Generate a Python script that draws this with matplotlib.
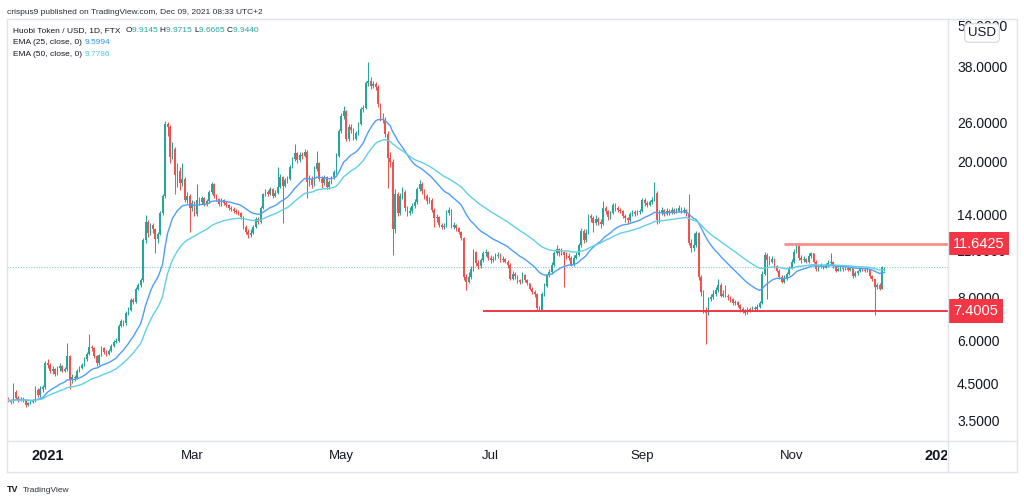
import matplotlib
matplotlib.use("Agg")
import matplotlib.pyplot as plt
import matplotlib.dates as mdates
import matplotlib.transforms as mtransforms
from matplotlib.lines import Line2D
import numpy as np
import pandas as pd

# ---------------- data ----------------
start_date = "2020-12-16"
first_open = 4.10
close = [
    4.05, 4.00, 4.30, 4.12, 4.08, 4.10, 4.05, 3.93, 3.98, 4.00,
    4.03, 4.35, 4.20, 4.38, 4.42, 5.20, 5.15, 4.95, 5.00, 4.85,
    5.05, 5.10, 4.95, 5.00, 5.45, 4.65, 4.75, 4.72, 4.95, 5.05,
    5.15, 5.35, 5.55, 5.80, 5.75, 5.45, 5.20, 5.50, 5.75, 5.60,
    5.55, 5.65, 5.85, 6.00, 6.05, 6.70, 6.90, 6.80, 7.30, 7.45,
    7.95, 7.85, 8.60, 8.80, 9.10, 11.90, 13.50, 12.50, 13.20, 12.80,
    12.00, 12.40, 14.30, 16.00, 26.00, 25.50, 20.80, 22.00, 18.50, 19.00,
    17.50, 18.00, 15.65, 16.00, 14.80, 15.30, 14.20, 15.60, 15.40, 15.80,
    15.20, 15.50, 16.50, 17.40, 16.00, 15.70, 15.20, 15.60, 15.30, 15.10,
    14.80, 14.70, 14.50, 14.40, 14.30, 13.90, 13.00, 12.60, 12.35, 12.50,
    13.00, 13.70, 13.50, 14.80, 16.20, 16.50, 16.30, 16.80, 16.00, 16.40,
    17.00, 18.20, 17.20, 17.80, 18.00, 19.50, 20.50, 21.40, 20.40, 21.20,
    21.00, 21.60, 17.60, 18.00, 17.30, 19.20, 20.00, 18.00, 17.50, 18.20,
    17.00, 17.60, 18.20, 18.80, 21.00, 24.80, 27.50, 28.40, 23.50, 25.50,
    25.00, 23.60, 24.50, 26.00, 28.70, 29.00, 34.20, 34.80, 33.60, 34.00,
    33.40, 29.70, 27.00, 26.80, 24.30, 20.70, 20.20, 12.80, 16.30, 14.30,
    16.00, 16.50, 14.80, 14.30, 14.50, 15.00, 15.40, 16.80, 17.40, 16.60,
    16.00, 15.50, 15.60, 14.60, 13.80, 13.90, 13.20, 13.00, 13.10, 14.30,
    14.60, 13.00, 13.20, 12.90, 12.60, 12.10, 9.30, 9.00, 9.30, 9.80,
    11.00, 10.20, 10.00, 10.40, 10.90, 11.00, 10.60, 10.40, 10.50, 10.70,
    10.80, 10.40, 10.50, 10.30, 10.10, 9.20, 9.50, 9.35, 9.10, 9.00,
    9.45, 9.10, 8.90, 8.60, 8.40, 8.30, 7.55, 7.45, 8.30, 8.75,
    9.40, 9.60, 10.10, 10.90, 11.20, 10.90, 11.00, 10.80, 10.70, 10.60,
    10.10, 10.60, 10.80, 11.50, 12.70, 11.90, 12.50, 14.00, 13.80, 13.40,
    13.70, 13.50, 13.30, 14.80, 14.50, 13.90, 14.30, 15.10, 14.80, 14.60,
    14.50, 14.00, 13.80, 13.60, 14.20, 14.40, 14.20, 14.40, 14.50, 15.60,
    15.30, 15.10, 15.40, 15.60, 16.40, 13.60, 14.30, 14.60, 14.20, 14.50,
    14.30, 14.60, 14.40, 14.50, 14.80, 14.50, 14.60, 14.30, 11.70, 11.30,
    11.50, 12.50, 9.30, 8.40, 7.45, 7.30, 8.00, 8.10, 8.30, 8.50,
    8.80, 8.20, 8.30, 8.20, 8.10, 8.00, 7.80, 7.85, 7.70, 7.50,
    7.40, 7.30, 7.50, 7.45, 7.55, 7.50, 7.60, 7.80, 9.50, 10.80,
    10.40, 10.30, 10.50, 10.00, 9.70, 9.30, 9.00, 9.20, 9.50, 9.85,
    10.30, 11.00, 11.55, 10.60, 10.40, 10.50, 10.30, 10.70, 10.90, 10.30,
    9.80, 9.95, 10.05, 9.90, 10.05, 10.20, 10.30, 10.00, 9.70, 9.80,
    9.90, 9.80, 9.90, 9.75, 9.85, 9.35, 9.55, 9.65, 9.85, 9.75,
    9.70, 9.75, 9.35, 9.15, 8.70, 8.80, 8.60, 9.9145, 9.944,
]
high = [
    4.15, 4.08, 4.55, 4.35, 4.18, 4.15, 4.14, 4.08, 4.02, 4.05,
    4.08, 4.45, 4.40, 4.45, 4.50, 5.30, 5.35, 5.20, 5.10, 5.05,
    5.10, 5.20, 5.15, 5.08, 5.97, 5.50, 4.85, 4.82, 5.00, 5.12,
    5.22, 5.42, 5.62, 6.35, 5.90, 5.80, 5.50, 5.55, 5.85, 5.80,
    5.68, 5.72, 5.92, 6.08, 6.15, 6.78, 7.00, 6.98, 7.38, 7.60,
    8.05, 8.05, 8.70, 8.95, 9.25, 12.10, 14.10, 13.60, 13.40, 13.40,
    12.90, 12.60, 14.50, 16.30, 26.60, 26.40, 25.80, 23.00, 22.30, 20.00,
    19.50, 20.00, 18.20, 16.50, 16.20, 15.60, 15.50, 17.40, 15.90, 16.00,
    15.90, 15.70, 16.70, 17.60, 17.50, 16.20, 15.80, 15.80, 15.70, 15.50,
    15.20, 15.00, 14.90, 14.70, 14.60, 14.40, 14.00, 13.20, 12.80, 12.80,
    13.20, 13.90, 13.90, 15.00, 16.40, 16.80, 16.70, 17.00, 16.90, 16.70,
    19.50, 18.60, 18.40, 18.10, 18.40, 19.80, 20.90, 22.70, 21.60, 21.50,
    21.50, 22.00, 21.80, 18.50, 18.30, 19.60, 21.70, 20.20, 18.30, 18.50,
    18.40, 17.90, 18.40, 19.10, 21.40, 25.20, 28.00, 29.30, 28.60, 26.00,
    26.00, 25.30, 24.90, 26.40, 29.20, 29.60, 34.80, 39.40, 35.60, 34.80,
    34.50, 33.80, 30.00, 28.00, 27.20, 24.80, 21.50, 20.60, 16.80, 16.50,
    16.40, 17.00, 16.70, 15.00, 14.90, 15.30, 15.70, 17.00, 17.80, 17.60,
    16.80, 16.20, 15.90, 15.80, 14.80, 14.20, 14.00, 13.40, 13.40, 14.60,
    14.90, 14.70, 13.50, 13.30, 13.00, 12.70, 12.20, 9.50, 9.60, 10.00,
    11.20, 11.10, 10.40, 10.60, 11.10, 11.20, 11.10, 10.80, 10.70, 10.90,
    11.00, 10.90, 10.70, 10.60, 10.40, 10.20, 9.70, 9.60, 9.40, 9.20,
    9.60, 9.50, 9.20, 8.95, 8.70, 8.50, 8.35, 7.65, 8.40, 8.90,
    9.50, 9.80, 10.30, 11.10, 11.50, 11.30, 11.30, 11.10, 11.00, 10.90,
    10.70, 10.80, 11.00, 11.70, 12.90, 12.80, 12.80, 14.20, 14.20, 14.00,
    14.10, 13.90, 13.70, 15.50, 15.00, 14.60, 14.50, 15.30, 15.30, 15.00,
    14.80, 14.60, 14.20, 13.90, 14.40, 14.60, 14.60, 14.60, 14.70, 15.80,
    15.80, 15.50, 15.60, 15.90, 17.60, 16.60, 14.60, 14.90, 14.70, 14.80,
    14.70, 14.90, 14.80, 14.80, 15.10, 14.90, 14.90, 14.70, 16.30, 12.00,
    12.50, 12.70, 12.60, 9.40, 8.50, 7.60, 8.10, 8.30, 8.50, 8.70,
    9.20, 8.90, 8.50, 8.80, 8.30, 8.20, 8.05, 7.95, 7.90, 7.75,
    7.60, 7.50, 7.60, 7.60, 7.65, 7.65, 7.75, 7.90, 9.70, 11.00,
    10.90, 10.70, 10.70, 10.60, 10.10, 9.80, 9.40, 9.40, 9.60, 10.00,
    10.50, 11.20, 11.64, 11.60, 10.80, 10.70, 10.60, 10.90, 11.00, 10.95,
    10.40, 10.10, 10.20, 10.10, 10.20, 10.40, 10.90, 10.35, 10.05, 9.95,
    10.00, 9.95, 10.00, 9.95, 9.95, 9.90, 9.65, 9.75, 9.95, 9.90,
    9.85, 9.85, 9.80, 9.40, 9.20, 8.95, 8.90, 10.00, 9.9715,
]
low = [
    4.00, 3.96, 3.98, 4.08, 4.02, 4.04, 4.00, 3.88, 3.90, 3.95,
    3.97, 4.00, 4.15, 4.15, 4.30, 4.38, 5.05, 4.88, 4.85, 4.78,
    4.80, 4.95, 4.90, 4.90, 4.95, 4.37, 4.55, 4.62, 4.68, 4.90,
    5.00, 5.10, 5.30, 5.50, 5.65, 5.40, 5.10, 5.15, 5.45, 5.52,
    5.48, 5.50, 5.60, 5.80, 5.95, 6.00, 6.62, 6.70, 6.75, 7.20,
    7.40, 7.75, 7.80, 8.50, 8.70, 9.00, 11.70, 12.20, 12.30, 12.50,
    10.90, 11.70, 12.30, 14.10, 15.80, 24.00, 20.00, 20.50, 16.20, 17.00,
    16.70, 17.20, 15.40, 15.30, 12.60, 14.50, 14.00, 14.00, 15.10, 15.20,
    15.00, 15.00, 15.30, 16.30, 15.80, 15.50, 15.00, 15.00, 15.10, 14.90,
    14.60, 14.50, 14.30, 14.20, 14.10, 13.70, 12.80, 12.40, 12.10, 12.20,
    12.40, 12.90, 13.30, 13.40, 14.70, 16.00, 16.00, 16.10, 15.80, 15.90,
    16.20, 16.90, 13.40, 17.00, 17.50, 17.90, 19.30, 20.30, 20.00, 20.20,
    20.60, 20.80, 15.80, 17.20, 16.90, 17.10, 19.00, 17.70, 16.90, 17.30,
    16.80, 16.80, 17.40, 18.00, 18.60, 20.80, 24.50, 27.00, 23.20, 23.20,
    24.50, 23.30, 23.40, 24.20, 25.80, 28.20, 28.80, 33.60, 33.00, 33.20,
    32.80, 29.20, 26.50, 26.20, 23.80, 16.90, 19.50, 10.80, 12.50, 14.00,
    14.10, 15.70, 14.50, 14.00, 14.10, 14.30, 14.80, 15.20, 16.60, 16.30,
    15.70, 15.20, 15.30, 14.40, 13.00, 13.50, 13.00, 12.80, 12.80, 13.00,
    14.10, 12.90, 12.80, 12.70, 12.40, 11.90, 9.10, 8.50, 8.90, 9.20,
    9.70, 10.00, 9.80, 9.90, 10.30, 10.70, 10.40, 10.20, 10.30, 10.40,
    10.60, 10.30, 10.30, 10.20, 9.90, 9.10, 9.10, 9.20, 8.95, 8.85,
    8.95, 9.00, 8.80, 8.50, 8.30, 8.15, 7.45, 7.40, 7.42, 8.20,
    8.70, 9.30, 9.50, 10.00, 10.80, 10.70, 10.80, 8.70, 10.50, 10.40,
    10.00, 10.00, 10.50, 10.70, 11.40, 11.70, 11.80, 12.40, 13.50, 12.60,
    13.20, 13.20, 12.90, 13.20, 14.20, 13.60, 13.70, 14.20, 14.50, 14.40,
    14.30, 13.80, 13.50, 13.40, 13.50, 14.00, 14.00, 14.10, 14.20, 14.40,
    15.00, 14.90, 15.00, 15.20, 15.50, 13.30, 13.40, 14.10, 14.00, 14.10,
    14.10, 14.20, 14.20, 14.30, 14.40, 14.30, 14.30, 14.00, 11.50, 11.00,
    11.10, 11.40, 9.10, 8.20, 7.30, 5.94, 7.20, 7.90, 8.00, 8.20,
    8.40, 8.10, 8.10, 8.10, 7.95, 7.85, 7.70, 7.70, 7.60, 7.35,
    7.30, 7.20, 7.25, 7.35, 7.40, 7.40, 7.45, 7.55, 7.75, 9.40,
    8.00, 10.10, 10.20, 9.90, 9.60, 9.20, 8.90, 8.90, 9.10, 9.40,
    9.80, 10.20, 10.90, 10.40, 10.20, 10.30, 10.20, 10.20, 10.60, 10.20,
    9.70, 9.70, 9.85, 9.80, 9.85, 9.95, 10.10, 9.90, 9.60, 9.65,
    9.70, 9.70, 9.75, 9.65, 9.70, 9.25, 9.30, 9.45, 9.60, 9.65,
    9.60, 9.60, 9.25, 9.05, 7.20, 8.60, 8.50, 8.55, 9.6665,
]

header_text = "crispus9 published on TradingView.com, Dec 09, 2021 08:33 UTC+2"
symbol_text = "Huobi Token / USD, 1D, FTX"
ohlc_keys = ["O", "H", "L", "C"]
ohlc_values = ["9.9145", "9.9715", "9.6665", "9.9440"]
ema_spans = [25, 50]
ema_legend = ["EMA (25, close, 0)", "EMA (50, close, 0)"]
ema_values = ["9.5994", "9.7786"]
price_ticks = [3.5, 4.5, 6.0, 8.0, 11.0, 14.0, 20.0, 26.0, 38.0, 50.0]
month_ticks = ["2021-01-01", "2021-03-01", "2021-05-01", "2021-07-01",
               "2021-09-01", "2021-11-01", "2022-01-01"]
month_labels = ["2021", "Mar", "May", "Jul", "Sep", "Nov", "2022"]
month_bold = [True, False, False, False, False, False, True]
level_values = [11.6425, 7.4005]
level_labels = ["11.6425", "7.4005"]
level_starts = ["2021-10-29", "2021-06-28"]
last_price = 9.944

# ---------------- style ----------------
W, H = 1024, 497
UP, DOWN = "#26a69a", "#ef5350"
EMA_COLORS = ["#4f9ef5", "#5fd0e6"]
EMA_TEXT_COLORS = ["#2196f3", "#4dc7e3"]
LEVEL_LINE_COLORS = ["#f4908b", "#f23645"]
LEVEL_LINE_W = [2.0, 1.4]
BOX_COLOR = "#f23645"
TEXT = "#131722"
GRIDLINE = "#e0e3eb"
FONT = ["Liberation Sans", "DejaVu Sans"]

plt.rcParams["font.family"] = FONT

fig = plt.figure(figsize=(W / 100, H / 100), dpi=100)
fig.patch.set_facecolor("white")


def fx(px):
    return px / W


def fy(py):
    return 1 - py / H


# main pane: x 7..948, y 19..441
ax = fig.add_axes([fx(7), fy(441), fx(948) - fx(7), fy(19) - fy(441)])
ax.set_yscale("log")
for s in ax.spines.values():
    s.set_visible(False)
ax.tick_params(left=False, bottom=False, labelleft=False, labelbottom=False,
               which="both")
ax.yaxis.set_minor_locator(matplotlib.ticker.NullLocator())

dates = pd.date_range(start_date, periods=len(close), freq="D")
x = mdates.date2num(dates)
o = np.array([first_open] + close[:-1])
c = np.array(close)
h = np.array(high)
l = np.array(low)
up = c >= o
cols = np.where(up, UP, DOWN)

ax.vlines(x, l, h, colors=cols, linewidth=0.75, zorder=2)
body_bot = np.minimum(o, c)
body_h = np.maximum(np.abs(c - o), c * 0.004)
ax.bar(x, body_h, bottom=body_bot, width=0.66, color=cols, linewidth=0,
       zorder=3)

cs = pd.Series(close)
for span, col in zip(ema_spans, EMA_COLORS):
    ema = cs.ewm(span=span, adjust=False).mean()
    ax.plot(x, ema.values, color=col, linewidth=1.0, zorder=4)

# last price dotted line
ax.axhline(last_price, color="#26a69a", linewidth=0.7, linestyle=(0, (1.2, 1.5)),
           alpha=0.6, zorder=1)

x_left = mdates.date2num(pd.Timestamp(start_date)) - 0.6
x_right = x_left + (948 - 7) / 2.447
ax.set_xlim(x_left, x_right)
y_top = 50 * np.exp((27 - 19) / 148.6)
y_bot = 50 * np.exp(-(441 - 27) / 148.6)
ax.set_ylim(y_bot, y_top)

# horizontal levels
for val, st, lc, lw in zip(level_values, level_starts, LEVEL_LINE_COLORS, LEVEL_LINE_W):
    xs = mdates.date2num(pd.Timestamp(st))
    ax.plot([xs, x_right], [val, val], color=lc, linewidth=lw, zorder=5,
            solid_capstyle="butt")


# ---------------- frame lines ----------------
def line_px(x0, y0, x1, y1, color=GRIDLINE, lw=1.0):
    fig.add_artist(Line2D([fx(x0), fx(x1)], [fy(y0), fy(y1)],
                          transform=fig.transFigure, color=color, linewidth=lw))


line_px(7, 19, 1017, 19)
line_px(7, 441, 1017, 441)
line_px(7, 472, 1017, 472)
line_px(7, 19, 7, 472)
line_px(948, 19, 948, 472)
line_px(1017, 19, 1017, 472)

# ---------------- price axis labels ----------------
ytrans = mtransforms.blended_transform_factory(fig.transFigure, ax.transData)
for p in price_ticks:
    ax.text(fx(957), p, f"{p:.4f}", transform=ytrans, ha="left", va="center",
            fontsize=10, color=TEXT, clip_on=False, zorder=6)

for val, lab in zip(level_values, level_labels):
    ax.text(fx(953), val, lab, transform=ytrans, ha="left", va="center",
            fontsize=10.5, color="white", clip_on=False, zorder=8,
            bbox=dict(boxstyle="square,pad=0.33", fc=BOX_COLOR, ec="none"))

fig.text(fx(982), fy(33), "USD", ha="center", va="center", fontsize=9.5,
         color=TEXT, zorder=9,
         bbox=dict(boxstyle="round,pad=0.25,rounding_size=0.3", fc="white",
                   ec="#d1d4dc", lw=0.8))

# ---------------- time axis labels ----------------
xtrans = mtransforms.blended_transform_factory(ax.transData, fig.transFigure)
clip = mtransforms.TransformedBbox(
    mtransforms.Bbox.from_extents(0, 0, fx(947), 1), fig.transFigure)
for d, lab, b in zip(month_ticks, month_labels, month_bold):
    t = ax.text(mdates.date2num(pd.Timestamp(d)), fy(456), lab, transform=xtrans,
                ha="center", va="center", fontsize=10.5 if b else 9.5,
                fontweight="bold" if b else "normal", color=TEXT, clip_on=True)
    t.set_clip_box(clip)

# ---------------- header / legend ----------------
fig.text(fx(7), fy(12), header_text, ha="left", va="center", fontsize=6.0,
         color="#2a2e39")

renderer = fig.canvas.get_renderer()


def text_run(x_px, y_px, parts, size):
    xx = x_px
    for s, col in parts:
        t = fig.text(fx(xx), fy(y_px), s, ha="left", va="center", fontsize=size,
                     color=col)
        bb = t.get_window_extent(renderer)
        xx += bb.width


run = [(symbol_text + "  ", TEXT)]
for k, v in zip(ohlc_keys, ohlc_values):
    run.append((k, TEXT))
    run.append((v + " ", UP))
text_run(13, 31, run, 6.0)
for i, (lab, val) in enumerate(zip(ema_legend, ema_values)):
    text_run(13, 43 + 11 * i, [(lab + " ", TEXT), (val, EMA_TEXT_COLORS[i])], 6.0)

# ---------------- logo ----------------
fig.text(fx(7), fy(490), "TV", ha="left", va="center", fontsize=6.5,
         fontweight="bold", color=TEXT)
fig.text(fx(23), fy(490), "TradingView", ha="left", va="center", fontsize=6.0,
         color="#2a2e39")

fig.savefig("out.png", dpi=100)
